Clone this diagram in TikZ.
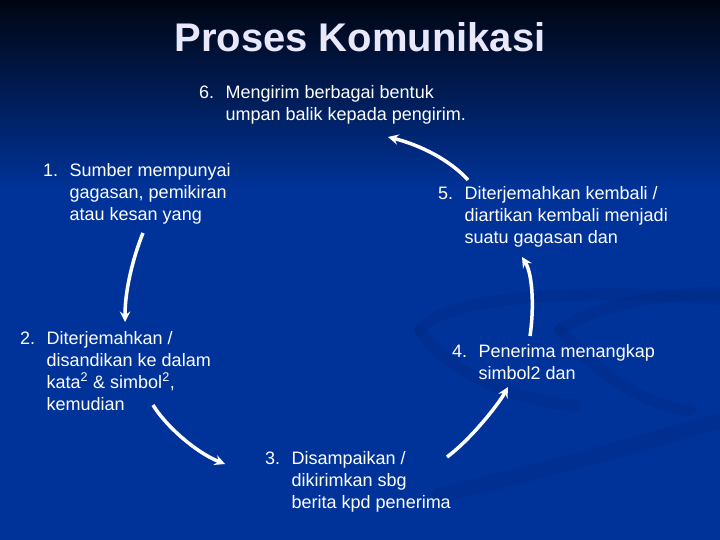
\documentclass[tikz,border=0pt]{standalone}
\usepackage{fontspec}
\setmainfont{Liberation Sans}
\usetikzlibrary{arrows,positioning}
\definecolor{slideblue}{RGB}{0,51,153}
\definecolor{slidetop}{RGB}{0,5,18}
\definecolor{swoosh}{RGB}{0,38,125}
\definecolor{titlegrey}{RGB}{232,232,250}
\newcommand{\numlbl}[1]{\makebox[26.5pt][l]{#1}}
\tikzset
{
    stepnode/.style = {anchor=base west, inner sep=0pt, text=white, font=\fontsize{18}{22}\selectfont},
    titlenode/.style = {anchor=base, inner sep=0pt, text=titlegrey, font=\fontsize{40}{48}\selectfont\bfseries},
    conn/.style = {white, line width=3.5pt, ->, >=stealth},
    band/.style = {swoosh, line width=12pt, line cap=round, opacity=0.25}
}

\begin{document}
\begin{tikzpicture}[x=1pt, y=-1pt]
	\useasboundingbox (0,0) rectangle (720,540);
	\shade [top color=slidetop, bottom color=slideblue] (0,0) rectangle (720,190);
	\fill [slideblue] (0,189) rectangle (720,540);
	\draw [band] (420,330) .. controls (450,290) and (620,290) .. (730,300);
	\draw [band] (420,330) .. controls (450,380) and (540,405) .. (575,405);
	\draw [band] (560,330) .. controls (600,300) and (690,292) .. (730,292);
	\draw [band] (560,330) .. controls (600,380) and (660,410) .. (690,410);
	\draw [band, line width=16pt] (440,495) .. controls (550,470) and (650,440) .. (730,418);

	\node (title) [titlenode] at (360,52) {Proses Komunikasi};
	\node (s6) [stepnode] at (199,99) {\numlbl{6.}\begin{tabular}[t]{@{}l@{}}Mengirim berbagai bentuk\\umpan balik kepada pengirim.\end{tabular}};
	\node (s1) [stepnode] at (43,177) {\numlbl{1.}\begin{tabular}[t]{@{}l@{}}Sumber mempunyai\\gagasan, pemikiran\\atau kesan yang\end{tabular}};
	\node (s5) [stepnode] at (438,200) {\numlbl{5.}\begin{tabular}[t]{@{}l@{}}Diterjemahkan kembali /\\diartikan kembali menjadi\\suatu gagasan dan\end{tabular}};
	\node (s2) [stepnode] at (20,344) {\numlbl{2.}\begin{tabular}[t]{@{}l@{}}Diterjemahkan /\\disandikan ke dalam\\kata\textsuperscript{2} \& simbol\textsuperscript{2},\\kemudian\end{tabular}};
	\node (s4) [stepnode] at (452,357) {\numlbl{4.}\begin{tabular}[t]{@{}l@{}}Penerima menangkap\\simbol2 dan\end{tabular}};
	\node (s3) [stepnode] at (265,464) {\numlbl{3.}\begin{tabular}[t]{@{}l@{}}Disampaikan /\\dikirimkan sbg\\berita kpd penerima\end{tabular}};

	\coordinate (s1 out) at (143,233);
	\coordinate (s2 in) at (125,322);
	\coordinate (s2 out) at (153,405);
	\coordinate (s3 in) at (225,464);
	\coordinate (s3 out) at (447,457);
	\coordinate (s4 in) at (508,387);
	\coordinate (s4 out) at (530,336);
	\coordinate (s5 in) at (522,257);
	\coordinate (s5 out) at (468,180);
	\coordinate (s6 in) at (388,137);

	\draw [conn] (s1 out) .. controls (136,250) and (125,285) .. (s2 in);
	\draw [conn] (s2 out) .. controls (165,425) and (195,452) .. (s3 in);
	\draw [conn] (s3 out) .. controls (470,440) and (498,405) .. (s4 in);
	\draw [conn] (s4 out) .. controls (534,310) and (533,275) .. (s5 in);
	\draw [conn] (s5 out) .. controls (450,160) and (420,145) .. (s6 in);
\end{tikzpicture}
\end{document}
